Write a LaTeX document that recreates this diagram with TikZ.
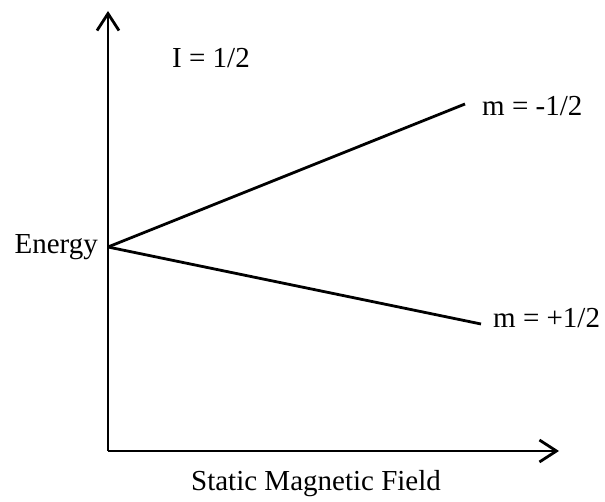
\documentclass[tikz,border=0pt]{standalone}
\usepackage{fontspec}
\setmainfont{Liberation Serif}
\usetikzlibrary{arrows.meta}
\begin{document}
\begin{tikzpicture}[x=1pt,y=-1pt,
  axis/.style={line width=2.8pt,-{Straight Barb[length=17pt,width=22pt,line width=2.8pt]}},
  level/.style={line width=2.8pt},
  lbl/.style={font=\fontsize{29}{33}\selectfont,inner sep=0pt}]
\useasboundingbox (0,0) rectangle (605,502);
\coordinate (o) at (108,451);
\coordinate (ytip) at (108,11);
\coordinate (xtip) at (559,451);
\coordinate (e) at (108,247);
\coordinate (up) at (465,104);
\coordinate (dn) at (481,324);
\draw[axis] (o) -- (ytip);
\draw[axis] (o) -- (xtip);
\draw[level] (e) -- (up);
\draw[level] (e) -- (dn);
\node[lbl,anchor=east] (energy) at (98,247) {Energy};
\node[lbl,anchor=west] (mup) at (482,106) {m = -1/2};
\node[lbl,anchor=west] (mdn) at (493,318) {m = +1/2};
\node[lbl] (spin) at (211,58) {I = 1/2};
\node[lbl] (field) at (316,484) {Static Magnetic Field};
\end{tikzpicture}
\end{document}
